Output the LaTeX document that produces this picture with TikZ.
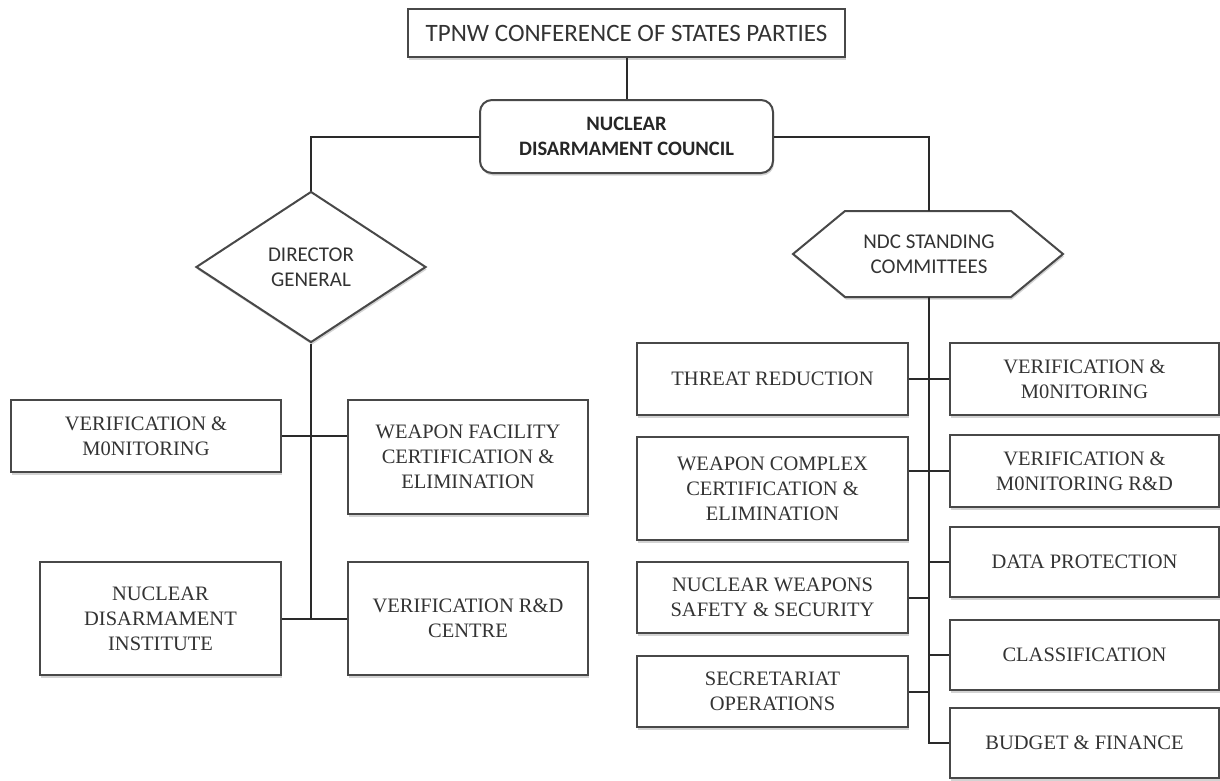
\documentclass[tikz,border=0pt]{standalone}
\usepackage{fontspec}
\setmainfont{Liberation Serif}
\newfontfamily\calibri{Carlito}
\usetikzlibrary{shapes.geometric,shadows}
\definecolor{ln}{HTML}{2A2A2A}
\definecolor{bd}{HTML}{484848}
\definecolor{tx}{HTML}{333333}
\begin{document}
\begin{tikzpicture}[x=1pt,y=-1pt,
  shad/.style={drop shadow={shadow xshift=1pt, shadow yshift=-2.5pt, opacity=0.35}},
  box/.style={draw=bd, line width=2pt, fill=white, inner sep=0pt, align=center, text=tx,
    font=\fontsize{20.5}{25}\selectfont, shad},
  conn/.style={draw=ln, line width=2pt},
  sans/.style={font=\calibri\fontsize{21}{25}\selectfont, text=tx, align=center}]
\useasboundingbox (0,0) rectangle (1220,780);

% top
\node[box, sans, font=\calibri\fontsize{25}{28}\selectfont, minimum width=437pt, minimum height=48pt] (top) at (626.5,33) {TPNW CONFERENCE OF STATES PARTIES};
\node[box, sans, rounded corners=12pt, font=\calibri\bfseries\fontsize{20.5}{25}\selectfont, text=black!85, minimum width=293pt, minimum height=73pt] (ndc) at (626.5,136.5) {NUCLEAR\\DISARMAMENT COUNCIL};

% director general
\node[box, sans, diamond, minimum width=230pt, minimum height=151pt] (dg) at (311,267) {DIRECTOR\\GENERAL};
\coordinate (dgtop) at (311,191);

% hexagon
\draw[draw=bd, line width=2pt, fill=white, shad] (793,254) -- (845,211) -- (1011,211) -- (1063,254) -- (1011,297) -- (845,297) -- cycle;
\node[sans, inner sep=0pt, minimum width=270pt, minimum height=86pt] (hex) at (929,254) {NDC STANDING\\COMMITTEES};

% left boxes
\node[box, minimum width=270pt, minimum height=72pt] (vml) at (146,436) {VERIFICATION \&\\M0NITORING};
\node[box, minimum width=240pt, minimum height=114pt] (wfce) at (468,457) {WEAPON FACILITY\\CERTIFICATION \&\\ELIMINATION};
\node[box, minimum width=241pt, minimum height=113pt] (ndi) at (160.5,618.5) {NUCLEAR\\DISARMAMENT\\INSTITUTE};
\node[box, minimum width=240pt, minimum height=113pt] (vrdc) at (468,618.5) {VERIFICATION R\&D\\CENTRE};

% right boxes
\node[box, minimum width=271pt, minimum height=72pt] (tr) at (772.5,379) {THREAT REDUCTION};
\node[box, minimum width=271pt, minimum height=103pt] (wcce) at (772.5,488.5) {WEAPON COMPLEX\\CERTIFICATION \&\\ELIMINATION};
\node[box, minimum width=271pt, minimum height=71pt] (nwss) at (772.5,597.5) {NUCLEAR WEAPONS\\SAFETY \& SECURITY};
\node[box, minimum width=271pt, minimum height=71pt] (so) at (772.5,691.5) {SECRETARIAT\\OPERATIONS};

\node[box, minimum width=269pt, minimum height=72pt] (vmr) at (1084.5,379) {VERIFICATION \&\\M0NITORING};
\node[box, minimum width=269pt, minimum height=72pt] (vmrd) at (1084.5,471) {VERIFICATION \&\\M0NITORING R\&D};
\node[box, minimum width=269pt, minimum height=70pt] (dp) at (1084.5,562) {DATA PROTECTION};
\node[box, minimum width=269pt, minimum height=70pt] (cls) at (1084.5,655) {CLASSIFICATION};
\node[box, minimum width=269pt, minimum height=70pt] (bf) at (1084.5,743) {BUDGET \& FINANCE};

% connectors
\draw[conn] (top) -- (ndc);
\draw[conn] (ndc.west) -| (dg.north);
\draw[conn] (ndc.east) -| (hex.north);
\coordinate (lb) at (311,619);
\draw[conn] (dg.south) -- (lb);
\draw[conn] (vml.east) -- (vml.east -| wfce.west);
\draw[conn] (ndi.east) -- (vrdc.west);

\draw[conn] (hex.south) |- (bf.west);
\draw[conn] (tr.east) -- (vmr.west);
\draw[conn] (vmrd.west) -- (vmrd.west -| wcce.east);
\draw[conn] (nwss.east) -- (nwss.east -| hex.south);
\draw[conn] (dp.west) -- (dp.west -| hex.south);
\draw[conn] (cls.west) -- (cls.west -| hex.south);
\draw[conn] (so.east) -- (so.east -| hex.south);
\end{tikzpicture}
\end{document}
